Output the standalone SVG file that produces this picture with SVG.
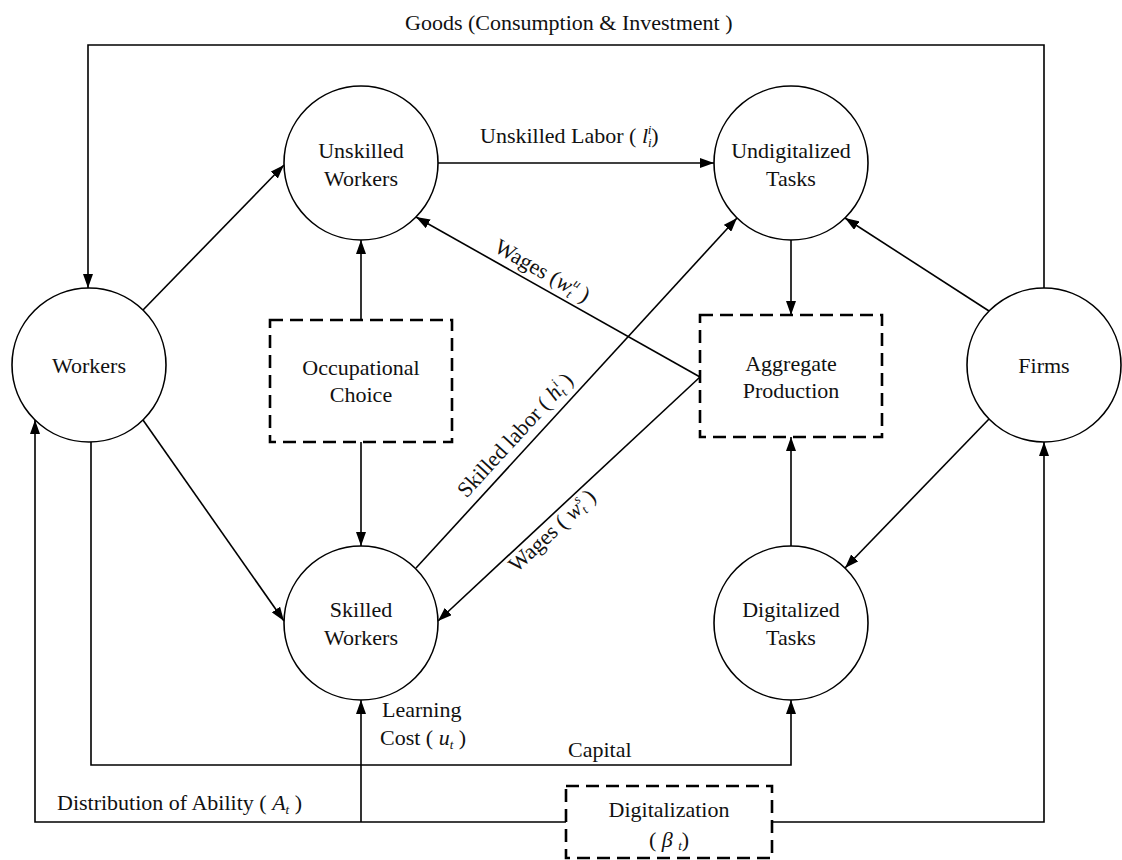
<svg xmlns="http://www.w3.org/2000/svg" width="1122" height="860" viewBox="0 0 1122 860">
<defs>
<marker id="ah" markerWidth="14" markerHeight="10" refX="14" refY="5" orient="auto" markerUnits="userSpaceOnUse"><path d="M0,0 L14,5 L0,10 Z" fill="#000"/></marker>
<style>
text{font-family:"Liberation Serif","Times New Roman",serif;font-size:22px;fill:#111}
.c{text-anchor:middle}
.node circle{fill:#fff;stroke:#000;stroke-width:1.6}
.box rect{fill:#fff;stroke:#000;stroke-width:2.6;stroke-dasharray:13 7}
.e{fill:none;stroke:#000;stroke-width:1.6}
.a{marker-end:url(#ah)}
.i{font-style:italic}
.s{font-size:13px;font-style:italic}
</style>
</defs>
<rect width="1122" height="860" fill="#fff"/>
<g id="connectors">
<path class="e a" d="M1044,288 V45 H88 V288"/>
<path class="e a" d="M143,310 L284,165"/>
<path class="e a" d="M143,420 L284,621"/>
<path class="e a" d="M361,320 V240"/>
<path class="e a" d="M361,442 V546"/>
<path class="e a" d="M438,163 H714"/>
<path class="e a" d="M791,240 V315"/>
<path class="e a" d="M791,546 V437"/>
<path class="e a" d="M989,311 L845,218"/>
<path class="e a" d="M989,419 L845,568"/>
<path class="e a" d="M416,568 L737,218"/>
<path class="e a" d="M700,377 L416,217"/>
<path class="e a" d="M700,377 L438,621"/>
<path class="e a" d="M91,442 V765 H791 V700"/>
<path class="e a" d="M566,822 H35 V420"/>
<path class="e a" d="M361,822 V700"/>
<path class="e a" d="M772,822 H1044 V442"/>
</g>
<g id="labels">
<text x="405" y="30">Goods (Consumption &amp; Investment )</text>
<text x="480" y="143">Unskilled Labor ( <tspan class="i">l</tspan><tspan class="s" dy="4">i</tspan><tspan class="s" dx="-4" dy="-13">i</tspan><tspan dy="9">)</tspan></text>
<text transform="translate(535,284) rotate(29.4)" class="c" y="-8">Wages (<tspan class="i">w</tspan><tspan class="s" dy="4">t</tspan><tspan class="s" dx="-3" dy="-13">u</tspan><tspan dy="9"> )</tspan></text>
<text transform="translate(527,446) rotate(-47.5)" class="c" y="-9">Skilled labor ( <tspan class="i">h</tspan><tspan class="s" dy="4">t</tspan><tspan class="s" dx="-3" dy="-13">i</tspan><tspan dy="9"> )</tspan></text>
<text transform="translate(544,522) rotate(-43)" class="c" y="19">Wages ( <tspan class="i">w</tspan><tspan class="s" dy="4">t</tspan><tspan class="s" dx="-3" dy="-13">s</tspan><tspan dy="9"> )</tspan></text>
<text x="382" y="717">Learning</text>
<text x="380" y="745">Cost ( <tspan class="i">u</tspan><tspan class="s" dy="4">t</tspan><tspan dy="-4"> )</tspan></text>
<text x="568" y="757">Capital</text>
<text x="57" y="810">Distribution of Ability ( <tspan class="i">A</tspan><tspan class="s" dy="4">t</tspan><tspan dy="-4"> )</tspan></text>
</g>
<g id="workers" class="node"><circle cx="89" cy="365" r="77"/><text class="c" x="89" y="373">Workers</text></g>
<g id="unskilled-workers" class="node"><circle cx="361" cy="163" r="77"/><text class="c" x="361" y="158">Unskilled</text><text class="c" x="361" y="186">Workers</text></g>
<g id="skilled-workers" class="node"><circle cx="361" cy="623" r="77"/><text class="c" x="361" y="617">Skilled</text><text class="c" x="361" y="645">Workers</text></g>
<g id="undigitalized-tasks" class="node"><circle cx="791" cy="163" r="77"/><text class="c" x="791" y="158">Undigitalized</text><text class="c" x="791" y="186">Tasks</text></g>
<g id="digitalized-tasks" class="node"><circle cx="791" cy="623" r="77"/><text class="c" x="791" y="617">Digitalized</text><text class="c" x="791" y="645">Tasks</text></g>
<g id="firms" class="node"><circle cx="1044" cy="365" r="77"/><text class="c" x="1044" y="373">Firms</text></g>
<g id="occupational-choice" class="box"><rect x="270" y="320" width="182" height="122"/><text class="c" x="361" y="375">Occupational</text><text class="c" x="361" y="402">Choice</text></g>
<g id="aggregate-production" class="box"><rect x="700" y="315" width="182" height="122"/><text class="c" x="791" y="371">Aggregate</text><text class="c" x="791" y="398">Production</text></g>
<g id="digitalization" class="box"><rect x="566" y="786" width="206" height="72"/><text class="c" x="669" y="817">Digitalization</text><text class="c" x="669" y="847">( <tspan class="i">β</tspan> <tspan class="s" dy="3">t</tspan><tspan dy="-3">)</tspan></text></g>
</svg>
